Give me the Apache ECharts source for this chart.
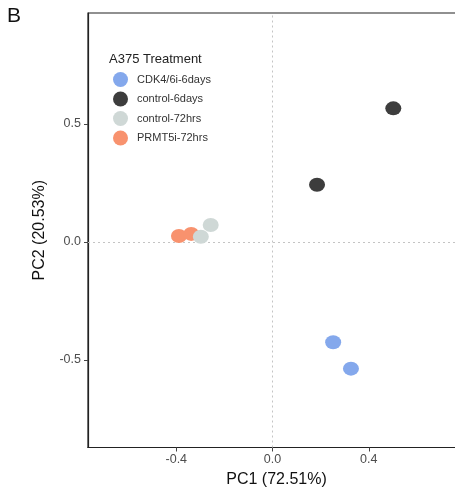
<!DOCTYPE html>
<html>
<head>
<meta charset="utf-8">
<script src="https://cdn.jsdelivr.net/npm/echarts@6/dist/echarts.min.js"></script>
<style>
  html, body { margin: 0; padding: 0; background: #fff; }
  #main { width: 455px; height: 492px; }
</style>
</head>
<body>
<div id="main"></div>
<script>
// groups and PCA scores
var groups = ['CDK4/6i-6days', 'control-6days', 'control-72hrs', 'PRMT5i-72hrs'];
var colors = ['#84a8ec', '#3d3d3d', '#cfd8d6', '#f8926e'];
var cdkPoints = [[0.252, -0.425], [0.326, -0.537]];
var ctrl6Points = [[0.185, 0.242], [0.502, 0.566]];
var ctrl72Points = [[-0.257, 0.072], [-0.298, 0.022]];
var prmtPoints = [[-0.389, 0.025], [-0.338, 0.034]];
var xTicks = [-0.4, 0.0, 0.4];
var yTicks = [-0.5, 0.0, 0.5];

var myChart = echarts.init(document.getElementById('main'));

function makeSeries(name, data, color) {
    return {
        name: name,
        type: 'scatter',
        data: data,
        symbol: 'circle',
        symbolSize: [16, 14],
        itemStyle: { color: color, opacity: 1 }
    };
}

// draw order: orange first so grey overlaps it like in the figure
var series = [
    makeSeries(groups[3], prmtPoints, colors[3]),
    makeSeries(groups[2], ctrl72Points, colors[2]),
    makeSeries(groups[0], cdkPoints, colors[0]),
    makeSeries(groups[1], ctrl6Points, colors[1])
];
// dotted zero lines
series[0].markLine = {
    silent: true,
    symbol: 'none',
    label: { show: false },
    lineStyle: { color: '#c4c4c4', type: [2, 3], width: 1 },
    data: [{ xAxis: 0 }, { yAxis: 0 }],
    z: 1
};

var tickFmt = function (v) { return v.toFixed(1); };

option = {
    animation: false,
    textStyle: { fontFamily: 'Liberation Sans, Arial, sans-serif' },
    graphic: [{
        type: 'text', left: 7, top: 6,
        style: { text: 'B', fontSize: 21, fill: '#111', fontFamily: 'Liberation Sans, Arial, sans-serif' }
    }],
    title: {
        text: 'A375 Treatment',
        left: 104, top: 48,
        textStyle: { fontSize: 13, fontWeight: 'normal', color: '#222' }
    },
    legend: {
        data: groups,
        orient: 'vertical',
        left: 108, top: 67,
        itemWidth: 17, itemHeight: 15,
        itemGap: 4.5,
        icon: 'circle',
        textStyle: { fontSize: 11, color: '#333', padding: [0, 0, 0, 3] }
    },
    grid: {
        left: 88, top: 13, bottom: 44.5, right: -10,
        outerBoundsMode: 'none',
        containLabel: false,
        show: true, borderColor: '#222', borderWidth: 1.2
    },
    xAxis: {
        type: 'value',
        min: -0.767, max: 0.8,
        name: 'PC1 (72.51%)',
        nameLocation: 'middle',
        nameGap: 22,
        nameTextStyle: { fontSize: 16, color: '#111' },
        splitLine: { show: false },
        axisLine: { show: true, onZero: false, lineStyle: { color: '#222', width: 1.2 } },
        axisTick: { show: true, length: 4, customValues: xTicks, lineStyle: { color: '#444' } },
        axisLabel: { customValues: xTicks, formatter: tickFmt, fontSize: 12.5, color: '#4d4d4d', margin: 6 }
    },
    yAxis: {
        type: 'value',
        min: -0.871, max: 0.97,
        name: 'PC2 (20.53%)',
        nameLocation: 'middle',
        nameGap: 40,
        nameRotate: 90,
        nameTextStyle: { fontSize: 16, color: '#111' },
        splitLine: { show: false },
        axisLine: { show: true, onZero: false, lineStyle: { color: '#222', width: 1.2 } },
        axisTick: { show: true, length: 4, customValues: yTicks, lineStyle: { color: '#444' } },
        axisLabel: { customValues: yTicks, formatter: tickFmt, fontSize: 12.5, color: '#4d4d4d', margin: 7 }
    },
    series: series
};

myChart.setOption(option);
</script>
</body>
</html>
